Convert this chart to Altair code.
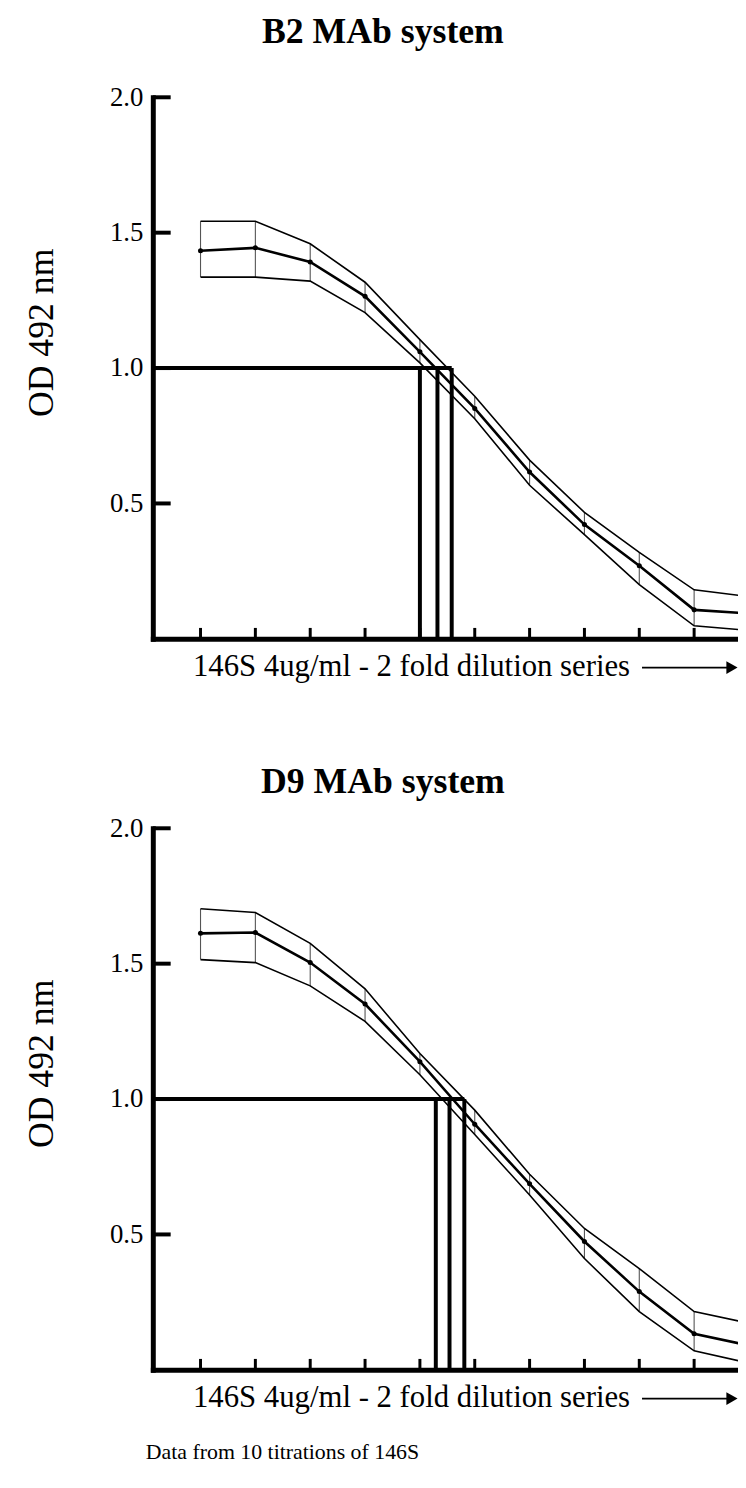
import altair as alt
import pandas as pd

# ---- data ----
dilution = list(range(1, 12))          # well index along the 2-fold dilution series
x_ticks = list(range(1, 11))
y_ticks = [0.5, 1.0, 1.5, 2.0]

b2_mean  = [1.433, 1.444, 1.392, 1.265, 1.060, 0.851, 0.616, 0.422, 0.270, 0.107, 0.094]
b2_upper = [1.542, 1.542, 1.459, 1.317, 1.105, 0.896, 0.660, 0.467, 0.319, 0.181, 0.156]
b2_lower = [1.336, 1.336, 1.321, 1.205, 1.019, 0.813, 0.567, 0.385, 0.200, 0.048, 0.031]
b2_cut   = [5.00, 5.32, 5.58]

d9_mean  = [1.612, 1.615, 1.504, 1.351, 1.138, 0.907, 0.687, 0.474, 0.289, 0.133, 0.090]
d9_upper = [1.703, 1.689, 1.575, 1.407, 1.168, 0.959, 0.722, 0.522, 0.374, 0.215, 0.172]
d9_lower = [1.515, 1.504, 1.418, 1.287, 1.090, 0.869, 0.646, 0.411, 0.215, 0.070, 0.025]
d9_cut   = [5.29, 5.54, 5.81]

cutoff_od = 1.0

FONT = "Liberation Serif"
W, H = 590, 546
X_DOMAIN = [0.13, 10.80]


def panel(title, mean, upper, lower, cuts, title_offset):
    df = pd.DataFrame({"x": dilution, "mean": mean, "upper": upper, "lower": lower})
    cut_df = pd.DataFrame({"cut": cuts, "od": [cutoff_od] * len(cuts), "floor": [0.0] * len(cuts)})
    h_df = pd.DataFrame({"start": [X_DOMAIN[0]], "end": [max(cuts)], "od": [cutoff_od]})
    xt_df = pd.DataFrame({"t": x_ticks})
    yt_df = pd.DataFrame({"t": y_ticks})
    arrow_df = pd.DataFrame({"a": [9.05], "b": [10.62], "head": [10.69]})

    xs = alt.Scale(domain=X_DOMAIN, nice=False, zero=False)
    ys = alt.Scale(domain=[0, 2.0], nice=False, zero=True)

    x_axis = alt.Axis(
        title="146S 4ug/ml - 2 fold dilution series",
        labels=False, ticks=False, grid=False,
        domainColor="black", domainWidth=5, domainCap="square",
        titleAlign="left", titleBaseline="alphabetic", titleX=40, titleY=37,
    )
    y_axis = alt.Axis(
        title="OD 492 nm", values=y_ticks, format=".1f",
        ticks=False, grid=False,
        domainColor="black", domainWidth=5, domainCap="square",
        labelPadding=10, labelBaseline="middle",
        titleAngle=270, titleAlign="center", titleBaseline="alphabetic",
        titleX=-101, titleY=237,
    )

    base = alt.Chart(df)
    err = base.mark_rule(color="#555", strokeWidth=1.1, clip=True).encode(
        x=alt.X("x:Q", scale=xs, axis=x_axis),
        y=alt.Y("lower:Q", scale=ys, axis=y_axis),
        y2="upper:Q",
    )
    up = base.mark_line(color="black", strokeWidth=1.6, clip=True).encode(
        x=alt.X("x:Q", scale=xs), y=alt.Y("upper:Q", scale=ys))
    lo = base.mark_line(color="black", strokeWidth=1.6, clip=True).encode(
        x=alt.X("x:Q", scale=xs), y=alt.Y("lower:Q", scale=ys))
    mid = base.mark_line(color="black", strokeWidth=2.6, clip=True).encode(
        x=alt.X("x:Q", scale=xs), y=alt.Y("mean:Q", scale=ys))
    pts = base.mark_circle(color="black", size=26, opacity=1, clip=True).encode(
        x=alt.X("x:Q", scale=xs), y=alt.Y("mean:Q", scale=ys))

    hline = alt.Chart(h_df).mark_rule(color="black", strokeWidth=4).encode(
        x=alt.X("start:Q", scale=xs),
        x2="end:Q",
        y=alt.Y("od:Q", scale=ys),
    )
    vlines = alt.Chart(cut_df).mark_rule(color="black", strokeWidth=4).encode(
        x=alt.X("cut:Q", scale=xs),
        y=alt.Y("od:Q", scale=ys),
        y2="floor:Q",
    )

    xt = alt.Chart(xt_df).mark_rule(color="black", strokeWidth=3).encode(
        x=alt.X("t:Q", scale=xs),
        y=alt.value(H), y2=alt.value(H - 11),
    )
    yt = alt.Chart(yt_df).mark_rule(color="black", strokeWidth=4).encode(
        y=alt.Y("t:Q", scale=ys),
        x=alt.value(0), x2=alt.value(18),
    )

    arrow_shaft = alt.Chart(arrow_df).mark_rule(color="black", strokeWidth=1.8).encode(
        x=alt.X("a:Q", scale=xs), x2="b:Q",
        y=alt.value(H + 29),
    )
    arrow_head = alt.Chart(arrow_df).mark_point(
        shape="triangle-right", filled=True, color="black", size=170, opacity=1).encode(
        x=alt.X("head:Q", scale=xs),
        y=alt.value(H + 29),
    )

    return alt.layer(err, up, lo, mid, pts, hline, vlines, xt, yt, arrow_shaft, arrow_head).properties(
        width=W, height=H,
        title=alt.TitleParams(
            text=title, font=FONT, fontSize=36, fontWeight="bold", color="black",
            anchor="middle", frame="group", dx=-63, offset=title_offset,
        ),
    )


top = panel("B2 MAb system", b2_mean, b2_upper, b2_lower, b2_cut, 33)
bottom = panel("D9 MAb system", d9_mean, d9_upper, d9_lower, d9_cut, 14)

chart = alt.vconcat(top, bottom, spacing=83).properties(
    title=alt.TitleParams(
        text="Data from 10 titrations of 146S", orient="bottom", anchor="start",
        font=FONT, fontSize=22, fontWeight="normal", color="black", dx=123, offset=30,
    ),
    padding={"left": 16, "top": 0, "right": 0, "bottom": 5},
    background="white",
).configure_view(
    stroke=None
).configure_axis(
    labelFont=FONT, labelFontSize=27, labelColor="black",
    titleFont=FONT, titleFontWeight="normal", titleColor="black",
).configure_axisX(
    titleFontSize=31
).configure_axisY(
    titleFontSize=36
)

chart.save("out.html", embed_options={"renderer": "svg", "actions": False})
